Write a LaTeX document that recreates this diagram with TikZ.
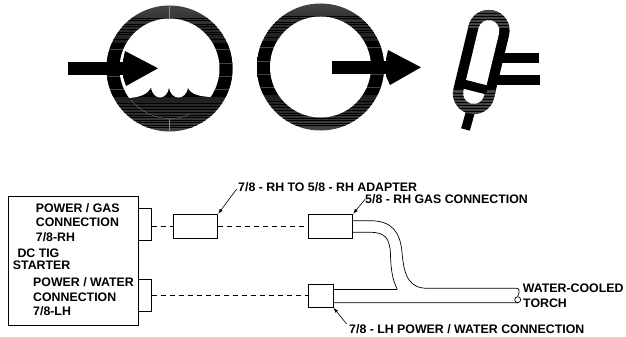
\documentclass[tikz,border=0pt]{standalone}
\usepackage{fontspec}
\setmainfont{Liberation Sans}
\usetikzlibrary{arrows.meta}
\definecolor{ringgrey}{HTML}{444444}
\tikzset{
  lab/.style={font=\bfseries\fontsize{12.35}{14}\selectfont, anchor=base west, inner sep=0pt, text=black},
  box/.style={draw=black, line width=1pt, fill=white, inner sep=0pt, minimum width=#1},
  halo/.style={draw=white, line width=1.6pt, fill=black},
  hosebar/.style={line width=10pt, draw=black},
  hose/.style={line width=0.7pt, draw=black},
  leader/.style={line width=0.6pt, -{Latex[length=5pt,width=3.5pt]}},
  link/.style={line width=0.7pt, dash pattern=on 5pt off 4pt},
  seam/.style={line width=0.3pt},
}
% grey-to-black banded fill of a horizontal strip (x1,x2,top y); the strip is 128 high
\newcommand{\bandfill}[3]{%
  \shade[top color=ringgrey, bottom color=ringgrey, middle color=black]
     (#1,#3) rectangle (#2,#3+128);
  \fill[black] (#1,#3+38) rectangle (#2,#3+92);
  \foreach \d in {13,15.5,19,21,24,27,29,34,98,101,104,107,110,112,115,117.5,120,122}
    \draw[black, line width=0.7pt] (#1,#3+\d) -- (#2,#3+\d);
  \foreach \d in {44,58,71,84}
    \draw[ringgrey, line width=0.3pt] (#1,#3+\d) -- (#2,#3+\d);
}
\begin{document}
\begin{tikzpicture}[x=1pt,y=-1pt]
\useasboundingbox (0,0) rectangle (626,337);
% --- first symbol: ring with water and inward arrow
\begin{scope}
  \clip (169.5,68.5) circle (63pt);
  \bandfill{100}{240}{5}
\end{scope}
\begin{scope}
  \clip (169.5,68.5) circle (50pt);
  \fill[white] (110,10) -- (220,10) -- (225,97) -- (213,97)
     .. controls (200,97) and (190,94) .. (188,87.5)
     .. controls (187,94) and (183,97.5) .. (178.5,97.5) .. controls (174,97.5) and (170,94) .. (169,87.5)
     .. controls (168,94) and (164,97.5) .. (160,97.5) .. controls (156,97.5) and (152,94) .. (151,87.5)
     .. controls (148,94) and (140,97.5) .. (128,98) -- (110,98) -- cycle;
\end{scope}
\draw[seam, black!45] (131,100) .. controls (142,113) and (156,118.5) .. (169.5,118.5) .. controls (178,118.5) and (184,117) .. (190,114);
\draw[seam, black!45] (169.5,5) -- (169.5,18);
\draw[seam, black!45] (169.5,119) -- (169.5,131.5);
\draw[halo] (158,68.3) -- (125,51) -- (123,60) -- (123,77) -- (126,86) -- cycle;
\fill[black] (68,62) rectangle (130,75);
\fill[black] (158,68.3) -- (125,51) -- (123,60) -- (123,77) -- (126,86) -- cycle;
% --- second symbol: empty ring with outward arrow
\begin{scope}
  \clip (320.5,67) circle (63.5pt);
  \bandfill{250}{390}{3}
\end{scope}
\fill[white] (320.5,67) circle (50.5pt);
\draw[halo] (421,67.3) -- (388,50) -- (386,59) -- (386,76) -- (390,85) -- cycle;
\fill[black] (332,61) rectangle (392,74);
\fill[black] (421,67.3) -- (388,50) -- (386,59) -- (386,76) -- (390,85) -- cycle;
% --- third symbol: torch
\draw[line width=9pt, black] (471.5,108) -- (465.5,129.5);
\begin{scope}
  \clip (509,35.6) arc[start angle=-13.56,end angle=166.44,radius=20.8pt]
     -- (453.5,88.4) arc[start angle=166.44,end angle=346.44,radius=20.8pt] -- cycle;
  \fill[black] (445,5) rectangle (515,120);
  \fill[ringgrey] (445,10) rectangle (515,28);
  \fill[ringgrey] (445,90) rectangle (515,116);
  \foreach \d in {13,16,19,22,25,93,96,99,102,105,108,111}
    \draw[black, line width=0.7pt] (445,\d) -- (515,\d);
\end{scope}
\draw[line width=21.2pt, white, line cap=round] (488.8,30.7) -- (473.7,93.3);
\draw[line width=9pt, black] (461,83.4) -- (487,90);
\draw[hosebar] (496,58.4) -- (539,58.4);
\draw[hosebar] (490,80) -- (540,80);
% --- wiring diagram
\node[box=129.6pt, minimum height=129.3pt] (starter) at (73.5,260.65) {};
\node[box=12.7pt, minimum height=32pt] (portA) at (144.7,224.3) {};
\node[box=12.7pt, minimum height=32.7pt] (portB) at (144.7,295.35) {};
\node[box=44.4pt, minimum height=23.7pt] (adapter) at (195.5,226.15) {};
\node[box=44.4pt, minimum height=23.7pt] (gasconn) at (330.5,226.15) {};
\node[box=24.7pt, minimum height=23.3pt] (waterconn) at (320.65,295.65) {};
\draw[link] (portA.east |- adapter.west) -- (adapter.west);
\draw[link] (adapter.east) -- (gasconn.west);
\draw[link] (portB.east |- waterconn.west) -- (waterconn.west);
% hoses
\coordinate (gasA) at (gasconn.east |- 0,220.7);
\coordinate (gasB) at (gasconn.east |- 0,232.3);
\coordinate (waterA) at (waterconn.east |- 0,289.3);
\coordinate (waterB) at (waterconn.east |- 0,302.7);
\coordinate (merge) at (397.3,289.3);
\node[draw=black, line width=0.7pt, circle, inner sep=0pt, minimum size=6pt] (tip) at (517.7,299.7) {};
\draw[hose] (gasA) -- (370,220.7) .. controls (392,220.7) and (400,232) .. (402,252)
   .. controls (404,278) and (410,288.3) .. (428,288.3) -- (516.5,288.3)
   .. controls (519,288.3) and (520.5,290.5) .. (tip.north);
\draw[hose] (gasB) -- (370,232.3) .. controls (385,232.3) and (390,238) .. (390.5,255)
   .. controls (391,272) and (393,281) .. (merge);
\draw[hose] (waterA) -- (merge);
\draw[hose] (waterB) -- (516,302.7) -- (tip.south);
% labels
\node[lab] (lblAdapter) at (238,191) {7/8 - RH TO 5/8 - RH ADAPTER};
\node[lab] (lblGas) at (365,203.3) {5/8 - RH GAS CONNECTION};
\node[lab] (lblA1) at (35.7,212) {POWER / GAS};
\node[lab] (lblA2) at (35.7,226) {CONNECTION};
\node[lab] (lblA3) at (35.7,241) {7/8-RH};
\node[lab] (lblS1) at (17.3,257.3) {DC TIG};
\node[lab] (lblS2) at (12.7,269) {STARTER};
\node[lab] (lblB1) at (33,286) {POWER / WATER};
\node[lab] (lblB2) at (33,301) {CONNECTION};
\node[lab] (lblB3) at (33,315) {7/8-LH};
\node[lab] (lblT1) at (522.7,292) {WATER-COOLED};
\node[lab] (lblT2) at (523,307) {TORCH};
\node[lab] (lblW) at (349,333) {7/8 - LH POWER / WATER CONNECTION};
% leaders
\coordinate (leadA) at (236.7,189);
\coordinate (leadG) at (365,199.3);
\coordinate (leadW) at (346.7,324);
\draw[leader] (leadA) -- (adapter.north east);
\draw[leader] (leadG) -- (gasconn.north east);
\draw[leader] (leadW) -- (waterconn.south east);
\end{tikzpicture}
\end{document}
